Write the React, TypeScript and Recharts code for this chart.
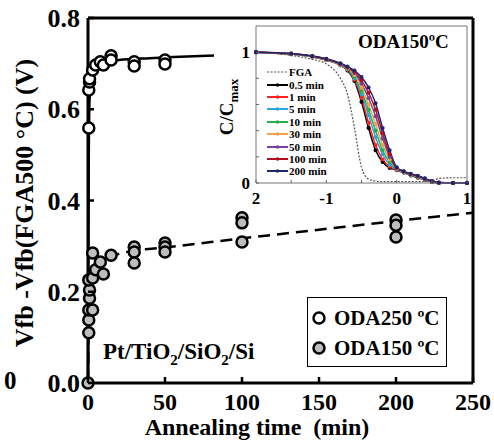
import React from "react";
import {
  ComposedChart,
  LineChart,
  Line,
  Scatter,
  XAxis,
  YAxis,
  Legend,
  ReferenceLine,
} from "recharts";

const SERIF = '"Liberation Serif", "Times New Roman", serif';

// main plot: Vfb shift vs annealing time
const oda250Time = [0.5, 0.5, 1, 1, 3, 5, 8, 10, 15, 15, 30, 30, 50, 50];
const oda250Shift = [0.559, 0.642, 0.66, 0.667, 0.686, 0.697, 0.704, 0.697, 0.717, 0.708, 0.704, 0.695, 0.708, 0.699];

const oda150Time = [0, 0.5, 0.5, 0.5, 3, 1, 1, 0.5, 3, 5, 3, 8, 10, 15, 30, 30, 30, 50, 50, 50, 100, 100, 100, 200, 200, 200];
const oda150Shift = [0, 0.11, 0.138, 0.16, 0.16, 0.186, 0.204, 0.226, 0.23, 0.248, 0.285, 0.265, 0.239, 0.28, 0.298, 0.287, 0.263, 0.307, 0.298, 0.287, 0.362, 0.351, 0.309, 0.357, 0.346, 0.32];

const fit250Time = [0, 0.5, 1, 2, 4, 7, 12, 20, 40, 60, 83];
const fit250Shift = [0, 0.5, 0.62, 0.66, 0.685, 0.698, 0.705, 0.708, 0.712, 0.715, 0.718];

const fit150Time = [0, 0.5, 1, 2, 5, 10, 20, 30, 50, 100, 150, 200, 250];
const fit150Shift = [0, 0.15, 0.2, 0.23, 0.255, 0.27, 0.283, 0.29, 0.297, 0.317, 0.336, 0.355, 0.373];

const timeTicks = [0, 50, 100, 150, 200, 250];
const shiftTicks = [0, 0.2, 0.4, 0.6, 0.8];

const mainLegend = [
  { name: "ODA250 ºC", fill: "#ffffff" },
  { name: "ODA150 ºC", fill: "#bdbdbd" },
];

// inset: normalised C-V curves (ODA150 °C)
const biasV = [-2, -1.5, -1.2, -1, -0.8, -0.7, -0.6, -0.5, -0.4, -0.3, -0.2, -0.1, 0, 0.1, 0.2, 0.3, 0.4, 0.5, 0.6, 0.8, 1];
const cvFGA = [1, 0.975, 0.945, 0.91, 0.8, 0.68, 0.42, 0.12, 0.03, 0.015, 0.01, 0.01, 0.01, 0.01, 0.01, 0.01, 0.012, 0.015, 0.035, 0.04, 0.04];
const cv05 = [1, 0.985, 0.965, 0.94, 0.9, 0.86, 0.78, 0.62, 0.42, 0.25, 0.16, 0.115, 0.1, 0.08, 0.058, 0.04, 0.025, 0.008, 0, 0, 0];
const cv1 = [1, 0.985, 0.965, 0.94, 0.9, 0.865, 0.79, 0.65, 0.46, 0.29, 0.18, 0.125, 0.102, 0.08, 0.06, 0.045, 0.025, 0.01, 0, 0, 0];
const cv5 = [1, 0.986, 0.966, 0.942, 0.903, 0.87, 0.8, 0.68, 0.52, 0.35, 0.22, 0.14, 0.105, 0.082, 0.062, 0.047, 0.027, 0.011, 0.001, 0, 0];
const cv10 = [1, 0.986, 0.967, 0.944, 0.905, 0.874, 0.81, 0.7, 0.56, 0.4, 0.25, 0.16, 0.108, 0.084, 0.063, 0.048, 0.028, 0.012, 0.001, 0, 0];
const cv30 = [1, 0.987, 0.968, 0.945, 0.907, 0.878, 0.825, 0.73, 0.6, 0.45, 0.29, 0.18, 0.11, 0.086, 0.065, 0.05, 0.03, 0.013, 0.002, 0, 0];
const cv50 = [1, 0.988, 0.969, 0.947, 0.909, 0.882, 0.84, 0.76, 0.65, 0.51, 0.34, 0.2, 0.114, 0.087, 0.067, 0.052, 0.032, 0.014, 0.002, 0, 0];
const cv100 = [1, 0.989, 0.97, 0.948, 0.912, 0.886, 0.85, 0.785, 0.69, 0.56, 0.38, 0.22, 0.117, 0.088, 0.068, 0.053, 0.033, 0.015, 0.003, 0, 0];
const cv200 = [1, 0.99, 0.97, 0.95, 0.915, 0.89, 0.86, 0.81, 0.73, 0.61, 0.42, 0.25, 0.12, 0.09, 0.07, 0.055, 0.035, 0.015, 0.003, 0, 0];

const cvSeries = [cvFGA, cv05, cv1, cv5, cv10, cv30, cv50, cv100, cv200];
const cvNames = ["FGA", "0.5 min", "1 min", "5 min", "10 min", "30 min", "50 min", "100 min", "200 min"];
const cvColors = ["#555555", "#000000", "#ff2020", "#29a8e0", "#22b04a", "#f5a050", "#7a3fa0", "#b01020", "#1a2a6a"];

const insetVTicks = [-2, -1.5, -1, -0.5, 0, 0.5, 1];
const insetCTicks = [0, 0.2, 0.4, 0.6, 0.8, 1];

const toPoints = (xs: number[], ys: number[]) => xs.map((t, i) => ({ t, v: ys[i] }));

const cvTable = biasV.map((v, i) => {
  const row: Record<string, number> = { v };
  cvSeries.forEach((s, k) => (row["s" + k] = s[i]));
  return row;
});

const TimeTick = ({ x, y, payload }: any) => (
  <g>
    <line x1={x} x2={x} y1={y} y2={y - 6} stroke="#000" strokeWidth={2.5} />
    <text x={x} y={y + 27} textAnchor="middle" fontFamily={SERIF} fontWeight="bold" fontSize={24} fill="#000">
      {payload.value}
    </text>
  </g>
);

const ShiftTick = ({ x, y, payload }: any) => (
  <g>
    <line x1={x} x2={x + 6} y1={y} y2={y} stroke="#000" strokeWidth={2.5} />
    <text x={x - 8} y={y + 9} textAnchor="end" fontFamily={SERIF} fontWeight="bold" fontSize={26} fill="#000">
      {payload.value.toFixed(1)}
    </text>
  </g>
);

const InsetVTick = ({ x, y, payload }: any) => {
  const v = payload.value;
  const label = Number.isInteger(v) ? (v === -2 ? "2" : String(v)) : "";
  return (
    <g>
      <line x1={x} x2={x} y1={y} y2={y - 3} stroke="#666" />
      <text x={x} y={y + 21} textAnchor="middle" fontFamily={SERIF} fontWeight="bold" fontSize={17} fill="#000">
        {label}
      </text>
    </g>
  );
};

const InsetCTick = ({ x, y, payload }: any) => {
  const v = payload.value;
  return (
    <g>
      <line x1={x} x2={x + 3} y1={y} y2={y} stroke="#666" />
      {(v === 0 || v === 1) && (
        <text x={x - 6} y={y + 6} textAnchor="end" fontFamily={SERIF} fontWeight="bold" fontSize={17} fill="#000">
          {v}
        </text>
      )}
    </g>
  );
};

const circle = (fill: string) => (p: any) =>
  <circle cx={p.cx} cy={p.cy} r={5.5} fill={fill} stroke="#000" strokeWidth={2.5} />;

function Inset() {
  return (
    <div style={{ position: "absolute", left: 214, top: 20, width: 257, height: 190, background: "#fff" }}>
      <LineChart width={257} height={190} data={cvTable} margin={{ top: 6, right: 4, left: 0, bottom: 0 }}>
        <XAxis
          dataKey="v"
          type="number"
          domain={[-2, 1]}
          ticks={insetVTicks}
          interval={0}
          height={27}
          tickSize={0}
          tickMargin={0}
          tick={<InsetVTick />}
          axisLine={{ stroke: "#777", strokeWidth: 1 }}
        />
        <YAxis
          type="number"
          domain={[0, 1.2]}
          ticks={insetCTicks}
          interval={0}
          width={42}
          tickSize={0}
          tickMargin={0}
          tick={<InsetCTick />}
          axisLine={{ stroke: "#777", strokeWidth: 1 }}
          label={{
            content: () => (
              <text transform="translate(19, 87) rotate(-90)" textAnchor="middle" fontFamily={SERIF} fontWeight="bold" fontSize={19} fill="#000">
                C/C<tspan fontSize={13} dy={5}>max</tspan>
              </text>
            ),
          }}
        />
        <ReferenceLine x={1} stroke="#777" strokeWidth={1} />
        <ReferenceLine y={1.2} stroke="#777" strokeWidth={1} />
        {cvSeries.map((_, k) => (
          <Line
            key={cvNames[k]}
            dataKey={"s" + k}
            name={cvNames[k]}
            type="monotone"
            stroke={cvColors[k]}
            strokeWidth={k === 0 ? 1.2 : 1.5}
            strokeDasharray={k === 0 ? "2 1.5" : undefined}
            dot={k === 0 ? false : { r: 1.3, fill: cvColors[k], stroke: cvColors[k] }}
            isAnimationActive={false}
          />
        ))}
        <Legend
          layout="vertical"
          align="center"
          verticalAlign="middle"
          wrapperStyle={{ left: 53, top: 46, width: "auto" }}
          content={() => (
            <div style={{ fontFamily: SERIF, fontWeight: 700, fontSize: 11, color: "#000" }}>
              {cvNames.map((n, k) => (
                <div key={n} style={{ display: "flex", alignItems: "center", height: 12.4 }}>
                  <svg width={22} height={8}>
                    <line x1={0} x2={21} y1={4} y2={4} stroke={cvColors[k]} strokeWidth={k === 0 ? 1.2 : 2} strokeDasharray={k === 0 ? "2 1.5" : undefined} />
                    {k > 0 && <circle cx={10.5} cy={4} r={1.8} fill={cvColors[k]} />}
                  </svg>
                  <span>{n}</span>
                </div>
              ))}
            </div>
          )}
        />
      </LineChart>
      <div style={{ position: "absolute", left: 144, top: 12, fontFamily: SERIF, fontWeight: 700, fontSize: 19, lineHeight: "19px", color: "#000", whiteSpace: "nowrap" }}>
        ODA150ºC
      </div>
    </div>
  );
}

export default function App() {
  return (
    <div style={{ position: "absolute", left: 0, top: 0, width: 494, height: 441, background: "#fff" }}>
      <ComposedChart width={494} height={441} margin={{ top: 18, right: 21, left: 0, bottom: 0 }}>
        <XAxis
          dataKey="t"
          type="number"
          domain={[0, 250]}
          ticks={timeTicks}
          interval={0}
          height={58}
          tickSize={0}
          tickMargin={0}
          tick={<TimeTick />}
          axisLine={{ stroke: "#000", strokeWidth: 3 }}
          label={{
            content: () => (
              <text x={257} y={434.5} textAnchor="middle" fontFamily={SERIF} fontWeight="bold" fontSize={24} fill="#000" style={{ whiteSpace: "pre" }}>
                Annealing time  (min)
              </text>
            ),
          }}
        />
        <YAxis
          dataKey="v"
          type="number"
          domain={[0, 0.8]}
          ticks={shiftTicks}
          interval={0}
          width={88}
          tickSize={0}
          tickMargin={0}
          tick={<ShiftTick />}
          axisLine={{ stroke: "#000", strokeWidth: 3 }}
          label={{
            content: () => (
              <text transform="translate(33, 203) rotate(-90)" textAnchor="middle" fontFamily={SERIF} fontWeight="bold" fontSize={26} fill="#000">
                Vfb -Vfb(FGA500 °C) (V)
              </text>
            ),
          }}
        />
        <ReferenceLine y={0.8} stroke="#000" strokeWidth={3} />
        <ReferenceLine x={250} stroke="#000" strokeWidth={3} />
        <Line
          data={toPoints(fit150Time, fit150Shift)}
          dataKey="v"
          type="monotone"
          stroke="#000"
          strokeWidth={2.5}
          strokeDasharray="12 7"
          dot={false}
          legendType="none"
          isAnimationActive={false}
        />
        <Line
          data={toPoints(fit250Time, fit250Shift)}
          dataKey="v"
          type="monotone"
          stroke="#000"
          strokeWidth={2.5}
          dot={false}
          legendType="none"
          isAnimationActive={false}
        />
        <Scatter
          name={mainLegend[1].name}
          data={toPoints(oda150Time, oda150Shift)}
          dataKey="v"
          shape={circle(mainLegend[1].fill)}
          isAnimationActive={false}
        />
        <Scatter
          name={mainLegend[0].name}
          data={toPoints(oda250Time, oda250Shift)}
          dataKey="v"
          shape={circle(mainLegend[0].fill)}
          isAnimationActive={false}
        />
        <Legend
          layout="vertical"
          align="center"
          verticalAlign="middle"
          wrapperStyle={{ left: 307, top: 297, width: "auto" }}
          content={() => (
            <div style={{ width: 138, height: 68, border: "1px solid #000", background: "#fff", fontFamily: SERIF, fontWeight: 700, fontSize: 21, color: "#000" }}>
              {mainLegend.map((item, i) => (
                <div key={item.name} style={{ display: "flex", alignItems: "center", height: 30, marginTop: i === 0 ? 5 : 0, whiteSpace: "nowrap" }}>
                  <svg width={26} height={16}>
                    <circle cx={11} cy={8} r={5.5} fill={item.fill} stroke="#000" strokeWidth={2.5} />
                  </svg>
                  <span>{item.name}</span>
                </div>
              ))}
            </div>
          )}
        />
      </ComposedChart>
      <Inset />
      <div style={{ position: "absolute", left: 103, top: 340, fontFamily: SERIF, fontWeight: 700, fontSize: 23, lineHeight: "23px", color: "#000", whiteSpace: "nowrap" }}>
        Pt/TiO<sub style={{ fontSize: 15, lineHeight: 0 }}>2</sub>/SiO<sub style={{ fontSize: 15, lineHeight: 0 }}>2</sub>/Si
      </div>
      <div style={{ position: "absolute", left: 4, top: 368, fontFamily: SERIF, fontWeight: 700, fontSize: 25, lineHeight: "25px", color: "#000" }}>
        0
      </div>
    </div>
  );
}
